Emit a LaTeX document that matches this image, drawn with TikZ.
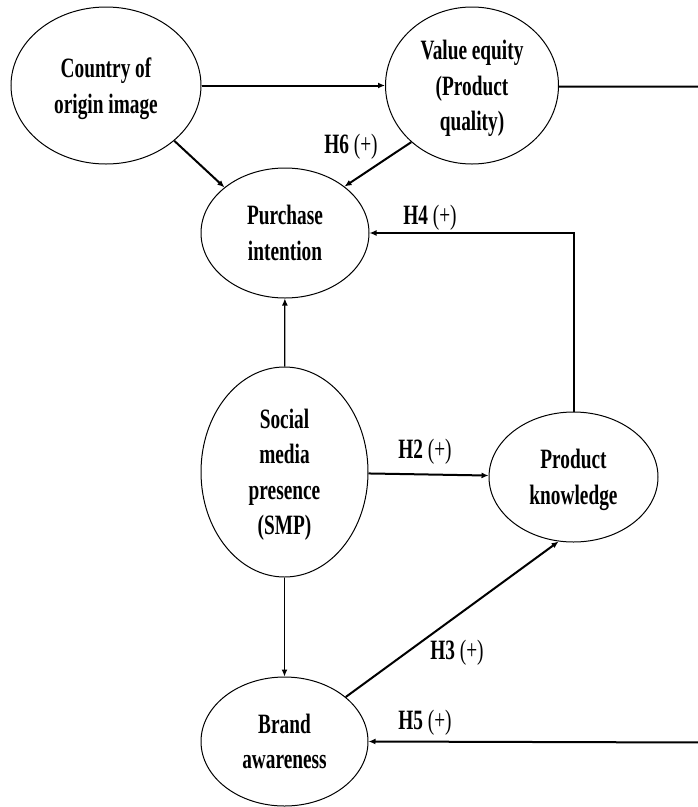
\documentclass[tikz,border=0pt]{standalone}
\usepackage{fontspec}
\newfontfamily\diagfont{Liberation Serif}[FakeStretch=0.69]
\usetikzlibrary{
    shapes.geometric,      % Ellipse nodes
    arrows.meta            % Arrow tips
}

\begin{document}
\begin{tikzpicture}[x=1pt,y=-1pt,
    construct/.style={draw, ellipse, line width=1pt, inner sep=0pt, align=center, text depth=0pt,
        font=\diagfont\bfseries\fontsize{28}{35.5}\selectfont},
    hyp/.style={font=\diagfont\fontsize{28}{35.5}\selectfont},
    link/.style={-{Latex[length=7pt,width=6pt]}, line width=2pt},
    thinlink/.style={-{Latex[length=7pt,width=6pt]}, line width=1.2pt}]
    \useasboundingbox (0,0) rectangle (698,807);
    % constructs
    \node[construct, minimum width=190pt, minimum height=157pt] (coo) at (106,85.5) {Country of\\origin image};
    \node[construct, minimum width=173pt, minimum height=157pt] (ve) at (472,85.5) {Value equity\\(Product\\quality)};
    \node[construct, minimum width=168pt, minimum height=130pt] (pi) at (285,233) {Purchase\\intention};
    \node[construct, minimum width=167pt, minimum height=210pt] (smp) at (284.5,472) {Social\\media\\presence\\(SMP)};
    \node[construct, minimum width=169pt, minimum height=130pt] (pk) at (573.5,477) {Product\\knowledge};
    \node[construct, minimum width=167pt, minimum height=129pt] (ba) at (284.5,741.5) {Brand\\awareness};
    % off-page turn of the H5 path
    \coordinate (veR) at (703,86.5);
    \coordinate (baR) at (703,742.5);
    % paths
    \draw[link] (coo) -- (ve);
    \draw[link] (coo.-39) -- (pi.143);
    \draw[link] (ve.223) -- (pi.38);
    \draw[link] (ve.east) ++(0,1) -- (veR) -- (baR) -- (ba.east);
    \draw[link] (pk.north) |- (pi.east);
    \draw[thinlink] (smp) -- (pi);
    \draw[thinlink] (smp) -- (ba);
    \draw[link] (smp) -- (pk);
    \draw[link] (ba.36) -- (pk.257);
    % hypotheses
    \node[hyp] (h6) at (351,147) {\textbf{H6} (+)};
    \node[hyp] (h4) at (430,218) {\textbf{H4} (+)};
    \node[hyp] (h2) at (425,452) {\textbf{H2} (+)};
    \node[hyp] (h3) at (457,653) {\textbf{H3} (+)};
    \node[hyp] (h5) at (425,723) {\textbf{H5} (+)};
\end{tikzpicture}
\end{document}
